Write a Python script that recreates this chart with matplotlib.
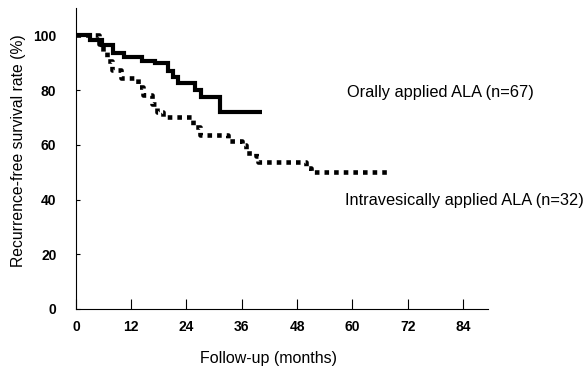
import matplotlib.pyplot as plt
import numpy as np

plt.rcParams['font.family'] = ['Liberation Sans', 'DejaVu Sans']

# Kaplan-Meier steps (months, survival %)
oral_months = [0, 3.0, 5.6, 8.0, 10.4, 14.3, 17.2, 20.0, 21.0, 22.2, 25.9, 27.2, 31.3, 40.4]
oral_rate = [100, 98.5, 96.4, 93.4, 92.0, 90.5, 89.8, 87.0, 84.7, 82.5, 80.0, 77.4, 72.0, 72.0]

ives_months = [0, 5.0, 5.8, 6.8, 7.8, 9.8, 13.5, 14.6, 16.5, 17.6, 19.0, 25.5, 27.0,
               33.0, 36.0, 37.0, 39.0, 39.5, 50.0, 51.0, 68.3]
ives_rate = [100, 96.9, 93.8, 90.6, 87.5, 84.4, 81.3, 78.1, 75.0, 72.0, 70.0, 66.5, 63.5,
             61.5, 60.0, 57.0, 56.0, 53.6, 51.5, 50.0, 50.0]

x_ticks = [0, 12, 24, 36, 48, 60, 72, 84]
y_ticks = [0, 20, 40, 60, 80, 100]

oral_label = 'Orally applied ALA (n=67)'
ives_label = 'Intravesically applied ALA (n=32)'

fig = plt.figure(figsize=(5.84, 3.66), dpi=100)
ax = fig.add_axes([0.130, 0.156, 0.706, 0.822])

ax.step(oral_months, oral_rate, where='post', color='black', lw=3.0,
        solid_capstyle='butt', solid_joinstyle='miter')
ax.step(ives_months, ives_rate, where='post', color='black', lw=3.3,
        linestyle=(0, (1, 1.1)), dash_capstyle='butt')

ax.set_xlim(0, 89.5)
ax.set_ylim(0, 110)
ax.set_xticks(x_ticks)
ax.set_yticks(y_ticks)
ax.set_xticklabels([str(t) for t in x_ticks], fontsize=10, fontweight='bold')
ax.set_yticklabels([str(t) for t in y_ticks], fontsize=10, fontweight='bold')

ax.tick_params(axis='x', direction='in', length=7, width=0.8, pad=8)
ax.tick_params(axis='y', direction='in', length=3, width=0.8, pad=14)

for side in ['top', 'right']:
    ax.spines[side].set_visible(False)
for side in ['left', 'bottom']:
    ax.spines[side].set_linewidth(0.8)

ax.set_xlabel('Follow-up (months)', fontsize=11.5)
ax.xaxis.set_label_coords(0.466, -0.14)
ax.set_ylabel('Recurrence-free survival rate (%)', fontsize=11.3)
ax.yaxis.set_label_coords(-0.122, 0.525)

ax.text(58.9, 79.2, oral_label, fontsize=11.8, va='center', ha='left', clip_on=False)
ax.text(58.5, 39.8, ives_label, fontsize=11.8, va='center', ha='left', clip_on=False)

fig.savefig('out.png', dpi=100, facecolor='white')
